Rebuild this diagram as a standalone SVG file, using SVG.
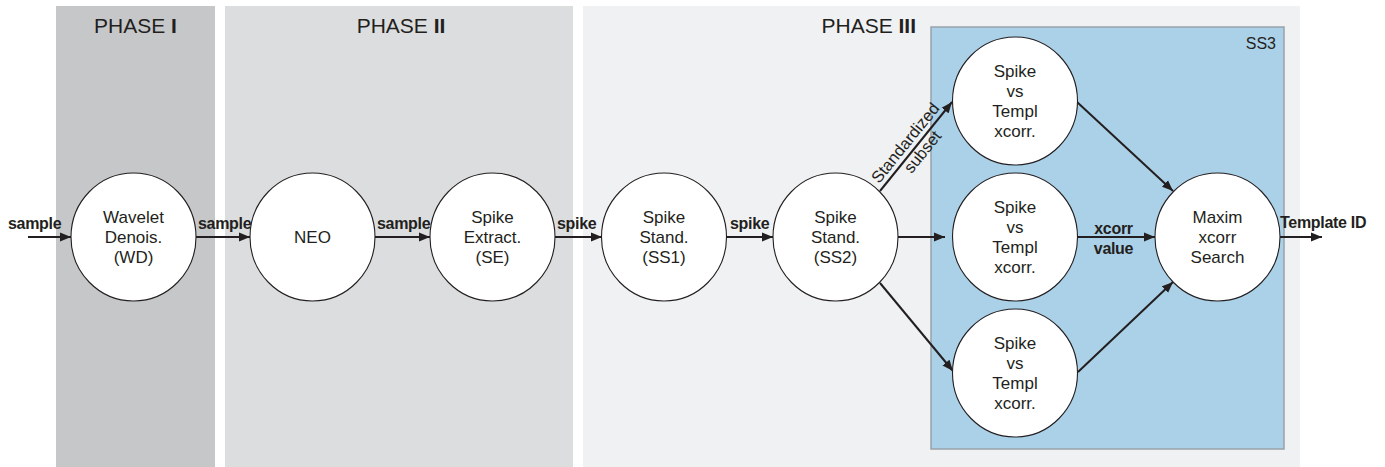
<svg xmlns="http://www.w3.org/2000/svg" width="1385" height="467" viewBox="0 0 1385 467">
<style>
.ph{font-family:"Liberation Sans",Arial,sans-serif;font-size:21px;fill:#231f20;}
.nd{fill:#ffffff;stroke:#231f20;stroke-width:1.1;}
.nt{font-family:"Liberation Sans",Arial,sans-serif;font-size:17px;fill:#231f20;text-anchor:middle;}
.lb{font-family:"Liberation Sans",Arial,sans-serif;font-size:16px;font-weight:bold;fill:#231f20;letter-spacing:-0.3px;}
.sl{font-family:"Liberation Sans",Arial,sans-serif;font-size:16.5px;fill:#231f20;text-anchor:middle;}
.cn{stroke:#231f20;stroke-width:2;fill:none;marker-end:url(#ah);}
</style>
<defs>
<marker id="ah" markerUnits="userSpaceOnUse" markerWidth="12" markerHeight="10" refX="11" refY="5" orient="auto">
<path d="M0,0.5 L11,5 L0,9.5 z" fill="#231f20"/>
</marker>
</defs>
<rect width="1385" height="467" fill="#ffffff"/>
<g id="phase1">
<rect x="56" y="6" width="159" height="461" fill="#c6c7c9"/>
<text class="ph" x="135.5" y="33" text-anchor="middle">PHASE <tspan font-weight="bold">I</tspan></text>
</g>
<g id="phase2">
<rect x="225" y="6" width="348" height="461" fill="#dcdddf"/>
<text class="ph" x="401" y="33" text-anchor="middle">PHASE <tspan font-weight="bold">II</tspan></text>
</g>
<g id="phase3">
<rect x="583" y="6" width="717" height="461" fill="#f0f1f3"/>
<text class="ph" x="916" y="33" text-anchor="end">PHASE <tspan font-weight="bold">III</tspan></text>
</g>
<g id="ss3">
<rect x="931" y="27" width="353" height="422" fill="#abd1e8" stroke="#98a2aa" stroke-width="1.5"/>
<text x="1276" y="49" font-family="'Liberation Sans',Arial,sans-serif" font-size="16" fill="#231f20" text-anchor="end">SS3</text>
</g>
<g id="connectors">
<line class="cn" x1="28" y1="237" x2="71" y2="237"/>
<line class="cn" x1="196" y1="237" x2="250" y2="237"/>
<line class="cn" x1="375" y1="237" x2="430" y2="237"/>
<line class="cn" x1="555" y1="237" x2="602" y2="237"/>
<line class="cn" x1="726" y1="237" x2="773" y2="237"/>
<line class="cn" x1="880" y1="191" x2="952" y2="102"/>
<line class="cn" x1="898" y1="237" x2="945" y2="237"/>
<line class="cn" x1="880" y1="283" x2="953" y2="371"/>
<line class="cn" x1="1077" y1="102" x2="1173" y2="191"/>
<line class="cn" x1="1077" y1="237" x2="1155" y2="237"/>
<line class="cn" x1="1078" y1="372" x2="1173" y2="282"/>
<line class="cn" x1="1280" y1="237" x2="1322" y2="237"/>
<text class="lb" x="8" y="229">sample</text>
<text class="lb" x="198" y="229">sample</text>
<text class="lb" x="377" y="229">sample</text>
<text class="lb" x="557" y="229">spike</text>
<text class="lb" x="730" y="229">spike</text>
<text class="lb" x="1113.5" y="234" text-anchor="middle">xcorr</text>
<text class="lb" x="1113.5" y="254" text-anchor="middle">value</text>
<text class="lb" x="1280" y="228">Template ID</text>
<g transform="translate(916,146.5) rotate(-51)">
<text class="sl" x="-4" y="-5">Standardized</text>
<text class="sl" x="0" y="14">subset</text>
</g>
</g>
<g id="wd">
<ellipse class="nd" cx="133.5" cy="237" rx="62.5" ry="64"/>
<text class="nt" x="133.5" y="223">Wavelet</text>
<text class="nt" x="133.5" y="243">Denois.</text>
<text class="nt" x="133.5" y="263">(WD)</text>
</g>
<g id="neo">
<ellipse class="nd" cx="312.5" cy="237" rx="62.5" ry="64"/>
<text class="nt" x="312.5" y="243">NEO</text>
</g>
<g id="se">
<ellipse class="nd" cx="492.5" cy="237" rx="62.5" ry="64"/>
<text class="nt" x="492.5" y="223">Spike</text>
<text class="nt" x="492.5" y="243">Extract.</text>
<text class="nt" x="492.5" y="263">(SE)</text>
</g>
<g id="ss1">
<ellipse class="nd" cx="664" cy="237" rx="62.5" ry="64"/>
<text class="nt" x="664" y="223">Spike</text>
<text class="nt" x="664" y="243">Stand.</text>
<text class="nt" x="664" y="263">(SS1)</text>
</g>
<g id="ss2">
<ellipse class="nd" cx="835.5" cy="237" rx="62.5" ry="64"/>
<text class="nt" x="835.5" y="223">Spike</text>
<text class="nt" x="835.5" y="243">Stand.</text>
<text class="nt" x="835.5" y="263">(SS2)</text>
</g>
<g id="xcorr1">
<ellipse class="nd" cx="1015" cy="101" rx="62.5" ry="64"/>
<text class="nt" x="1015" y="77">Spike</text>
<text class="nt" x="1015" y="97">vs</text>
<text class="nt" x="1015" y="117">Templ</text>
<text class="nt" x="1015" y="137">xcorr.</text>
</g>
<g id="xcorr2">
<ellipse class="nd" cx="1015" cy="237" rx="62.5" ry="64"/>
<text class="nt" x="1015" y="213">Spike</text>
<text class="nt" x="1015" y="233">vs</text>
<text class="nt" x="1015" y="253">Templ</text>
<text class="nt" x="1015" y="273">xcorr.</text>
</g>
<g id="xcorr3">
<ellipse class="nd" cx="1015" cy="373" rx="62.5" ry="64"/>
<text class="nt" x="1015" y="349">Spike</text>
<text class="nt" x="1015" y="369">vs</text>
<text class="nt" x="1015" y="389">Templ</text>
<text class="nt" x="1015" y="409">xcorr.</text>
</g>
<g id="maxim">
<ellipse class="nd" cx="1217.5" cy="237" rx="62.5" ry="64"/>
<text class="nt" x="1217.5" y="223">Maxim</text>
<text class="nt" x="1217.5" y="243">xcorr</text>
<text class="nt" x="1217.5" y="263">Search</text>
</g>
</svg>
